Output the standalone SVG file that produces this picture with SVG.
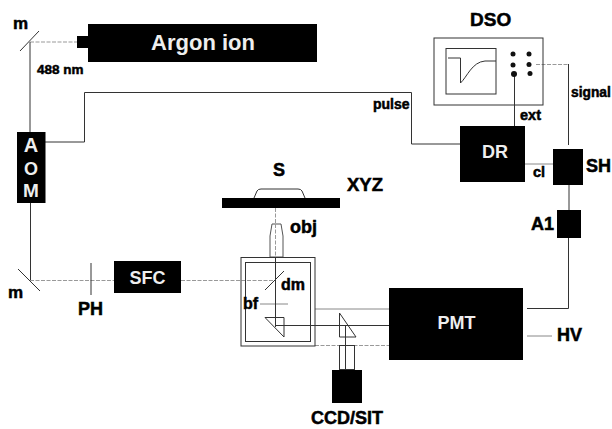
<svg xmlns="http://www.w3.org/2000/svg" width="612" height="429" viewBox="0 0 612 429">
<style>
text{font-family:"Liberation Sans",Arial,sans-serif;font-weight:bold;fill:#000;stroke:#000;stroke-width:.5}
text.w{fill:#eee;stroke:none;text-anchor:middle}
.box{fill:#000}
.ol{fill:none;stroke:#333;stroke-width:1}
.s{fill:none;stroke:#333;stroke-width:1}
.g{fill:none;stroke:#888;stroke-width:1}
.d{fill:none;stroke:#999;stroke-width:1;stroke-dasharray:4 1.500}
.k{fill:#111}
</style>
<rect width="612" height="429" fill="#fff"/>
<g id="connectors">
<path class="d" d="M30 42H77"/>
<path class="s" d="M30 42V132"/>
<path class="s" d="M45 142H84.500V92.500H411.500V144H460"/>
<path class="s" d="M30.500 203V280"/>
<path class="d" d="M30 280.500H114"/>
<path class="d" d="M181 280.500H275"/>
<path class="s" d="M514.500 74V126"/>
<path class="d" d="M536 64.500H568"/>
<path class="s" d="M568.500 64V145"/>
<path class="g" d="M525 164H553"/>
<path class="s" d="M569 185V210"/>
<path class="s" d="M568.500 238V308.500H527"/>
<path class="g" d="M527 336H552"/>
<path class="d" d="M275.500 208V224"/>
<path class="g" d="M315 309H389"/>
<path class="s" d="M276 325.500H389"/>
<path class="d" d="M315 345.500H389"/>
<path class="s" d="M345.500 325V370"/>
</g>
<g id="mirror-top"><path class="s" d="M20 51L39 31"/><text x="13" y="29" font-size="17">m</text></g>
<g id="argon"><rect class="box" x="88" y="24" width="229" height="38"/><rect class="box" x="77" y="36" width="11" height="12"/><text class="w" x="203" y="50" font-size="22">Argon ion</text></g>
<g id="label-488"><text x="37" y="74" font-size="13.500">488 nm</text></g>
<g id="aom"><rect class="box" x="17" y="132" width="28.500" height="71"/><text class="w" x="31" y="152" font-size="20">A</text><text class="w" x="31" y="175" font-size="18">O</text><text class="w" x="31" y="197" font-size="19">M</text></g>
<g id="label-pulse"><text x="373" y="109" font-size="14">pulse</text></g>
<g id="dso">
<text x="470" y="26" font-size="19">DSO</text>
<rect class="ol" x="434" y="38" width="109" height="67"/>
<rect class="ol" x="446" y="48.500" width="50" height="45.500"/>
<path class="s" d="M448 58H460.500V83C467 77 472 62 485 61H496"/>
<g class="k"><circle cx="513" cy="54" r="2.500"/><circle cx="529" cy="54" r="2.500"/><circle cx="513" cy="65" r="2.500"/><circle cx="529" cy="64.500" r="2.500"/><circle cx="514" cy="74" r="3"/><circle cx="530" cy="73.500" r="2.500"/></g>
</g>
<g id="label-ext"><text x="520" y="120" font-size="14.500">ext</text></g>
<g id="label-signal"><text x="571" y="96.500" font-size="13.800">signal</text></g>
<g id="dr"><rect class="box" x="460" y="126" width="65" height="56"/><text class="w" x="495" y="158" font-size="18">DR</text></g>
<g id="label-cl"><text x="533" y="177" font-size="14.500">cl</text></g>
<g id="sh"><rect class="box" x="553" y="149" width="30" height="36"/><text x="586" y="172" font-size="18">SH</text></g>
<g id="a1"><rect class="box" x="557" y="210" width="24" height="28"/><text x="531" y="230" font-size="18">A1</text></g>
<g id="pmt"><rect class="box" x="389" y="288" width="134" height="72"/><text class="w" x="456.500" y="329" font-size="18">PMT</text></g>
<g id="label-hv"><text x="557" y="341" font-size="18">HV</text></g>
<g id="stage"><path class="s" d="M254 198L257 191Q258 189 261 189H298Q301 189 302 191L305 198"/><rect class="box" x="222" y="198" width="118" height="10"/><text x="273" y="176" font-size="18">S</text><text x="347" y="191" font-size="18.500">XYZ</text></g>
<g id="objective"><path fill="#fff" stroke="#555" d="M270 257V236L272 224H281L283 236V257Z"/><path class="d" d="M275.500 224V257"/><text x="290" y="233" font-size="18">obj</text></g>
<g id="microscope">
<rect class="ol" x="241" y="257.500" width="74" height="88.500"/>
<rect class="ol" x="245.500" y="262.500" width="65" height="79"/>
<path class="s" d="M265 290L284 271"/>
<path class="g" d="M260 304H288"/>
<path class="s" d="M265 317.500H284V337Z"/>
<path class="s" d="M275.500 258V327"/>
<text x="281" y="290" font-size="16">dm</text>
<text x="243" y="309" font-size="16">bf</text>
</g>
<g id="prism"><path class="s" d="M339.500 313L356 337H339.500Z"/></g>
<g id="ccd"><rect class="ol" x="339.500" y="345.500" width="15" height="24"/><rect class="box" x="332" y="370" width="30" height="33"/><text x="311" y="424" font-size="18">CCD/SIT</text></g>
<g id="sfc"><rect class="box" x="114" y="261" width="67" height="32"/><text class="w" x="147.500" y="284" font-size="18">SFC</text></g>
<g id="pinhole"><path class="s" d="M91 263V295"/><text x="78" y="315" font-size="18">PH</text></g>
<g id="mirror-bottom"><path class="s" d="M18 269L40 291"/><text x="8" y="298" font-size="17">m</text></g>
</svg>
